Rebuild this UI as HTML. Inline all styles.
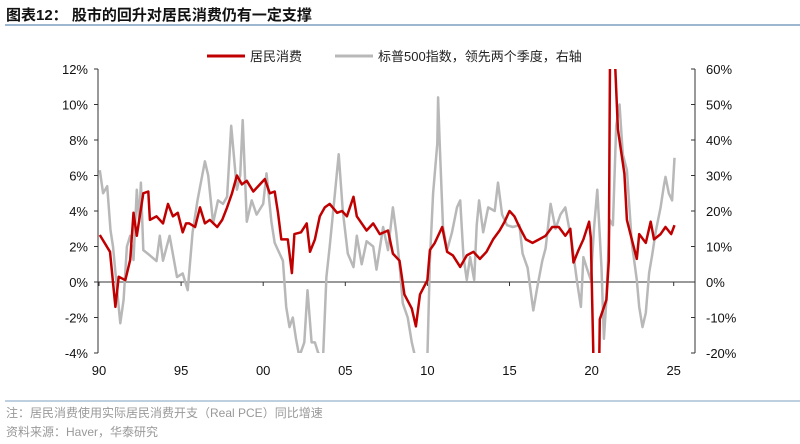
<!DOCTYPE html>
<html style="margin:0;width:800px;height:444px;overflow:hidden"><head><meta charset="utf-8"><style>
html,body{margin:0;padding:0;background:#fff;width:800px;height:444px;overflow:hidden;font-family:"Liberation Sans","Noto Sans CJK SC",sans-serif;}
svg{display:block;position:absolute;left:0;top:0}
</style></head><body>
<svg id="chart" width="800" height="444" xmlns="http://www.w3.org/2000/svg">
<text x="6" y="20" font-size="15" font-weight="bold" fill="#111" font-family="Liberation Sans,Noto Sans CJK SC,sans-serif">图表12：  股市的回升对居民消费仍有一定支撑</text>
<line x1="5" y1="25" x2="800" y2="25" stroke="#7f9fc0" stroke-width="1.5"/>
<line x1="5" y1="401" x2="800" y2="401" stroke="#a9bfd6" stroke-width="1.5"/>
<text x="6" y="417" font-size="12" fill="#999">注：居民消费使用实际居民消费开支（Real PCE）同比增速</text>
<text x="6" y="436" font-size="12" fill="#999">资料来源：Haver，华泰研究</text>
<g>
<line x1="207" y1="56" x2="245" y2="56" stroke="#c00000" stroke-width="3"/>
<text x="250" y="61" font-size="13" fill="#222">居民消费</text>
<line x1="335" y1="56" x2="373" y2="56" stroke="#b8b8b8" stroke-width="3"/>
<text x="378" y="61" font-size="13" fill="#222">标普500指数，领先两个季度，右轴</text>
</g>
<defs><clipPath id="plot"><rect x="98" y="69" width="597" height="284"/></clipPath></defs>
<g id="axes"></g>
<g id="series" clip-path="url(#plot)"></g>
</svg>
<script>
const leftTicks=[12,10,8,6,4,2,0,-2,-4];
const rightTicks=[60,50,40,30,20,10,0,-10,-20];
const yearTicks=[1990,1995,2000,2005,2010,2015,2020,2025];
const yearLabels=["90","95","00","05","10","15","20","25"];
const pceDates=[1990.05,1990.67,1991,1991.2,1991.6,1991.9,1992.1,1992.3,1992.7,1993,1993.1,1993.5,1993.9,1994.2,1994.5,1994.8,1995.1,1995.3,1995.5,1995.85,1996.15,1996.45,1996.75,1997.2,1997.5,1997.8,1998.1,1998.4,1998.7,1999,1999.4,1999.8,2000.1,2000.4,2000.7,2000.9,2001.1,2001.5,2001.75,2001.9,2002.3,2002.65,2002.85,2003.15,2003.45,2003.75,2004.05,2004.5,2004.8,2005.1,2005.5,2005.7,2006,2006.3,2006.7,2007.1,2007.6,2007.9,2008.3,2008.6,2009.05,2009.3,2009.55,2010,2010.15,2010.45,2010.9,2011.2,2011.55,2012,2012.4,2012.8,2013.2,2013.6,2014,2014.4,2014.7,2015,2015.3,2015.6,2016,2016.4,2016.8,2017.2,2017.6,2018,2018.4,2018.7,2018.9,2019.2,2019.5,2019.85,2019.95,2020.1,2020.3,2020.5,2020.9,2021.05,2021.2,2021.35,2021.6,2022,2022.15,2022.45,2022.75,2022.9,2023.3,2023.6,2023.8,2024.2,2024.5,2024.85,2025.05];
const pceValues=[2.65,1.7,-1.4,0.3,0.1,1.25,3.9,2.6,5.0,5.1,3.5,3.7,3.3,4.4,3.7,3.9,2.8,3.3,3.3,3.1,4.2,3.3,3.5,3.1,3.5,4.2,5.0,6.0,5.5,5.7,5.1,5.5,5.8,5.0,5.1,3.9,2.4,2.4,0.5,2.7,2.8,3.3,1.7,2.4,3.7,4.2,4.4,3.9,4.0,3.7,4.8,3.7,3.3,2.9,3.3,2.7,2.9,1.6,1.2,-0.7,-1.5,-2.5,-0.7,0.1,1.8,2.2,3.1,1.7,1.5,0.85,1.5,1.7,1.3,1.7,2.4,2.9,3.4,4.0,3.7,3.1,2.4,2.2,2.4,2.6,3.1,3.1,2.6,3.0,1.1,1.8,2.4,3.4,2.5,-3.7,-16,-2.1,-1.0,1.2,25,14,8.6,6.1,3.5,2.4,1.3,2.7,2.2,3.4,2.4,2.7,3.1,2.7,3.2];
const spxDates=[1990.05,1990.25,1990.5,1990.7,1990.85,1991.1,1991.3,1991.5,1991.7,1991.9,1992.1,1992.3,1992.45,1992.55,1992.7,1993.1,1993.5,1993.7,1993.9,1994.3,1994.75,1995.1,1995.4,1995.7,1996,1996.45,1996.65,1996.95,1997.25,1997.55,1997.8,1998.05,1998.15,1998.4,1998.6,1998.75,1999,1999.3,1999.6,2000,2000.2,2000.5,2000.7,2000.9,2001.2,2001.4,2001.6,2001.8,2002,2002.2,2002.5,2002.7,2002.95,2003.15,2003.35,2003.65,2003.85,2004.05,2004.35,2004.6,2004.85,2005.15,2005.5,2005.7,2006,2006.3,2006.7,2006.9,2007.3,2007.6,2007.9,2008.1,2008.3,2008.5,2008.8,2009.05,2009.25,2010,2010.15,2010.35,2010.6,2010.65,2010.75,2010.95,2011.2,2011.5,2011.8,2012,2012.2,2012.4,2012.6,2012.85,2013,2013.15,2013.4,2013.7,2014.1,2014.3,2014.55,2014.85,2015.2,2015.6,2015.8,2016.1,2016.45,2016.7,2017,2017.2,2017.5,2017.8,2018.1,2018.4,2018.6,2018.8,2019.1,2019.35,2019.5,2019.7,2019.95,2020.15,2020.35,2020.6,2020.75,2020.9,2021.1,2021.3,2021.5,2021.7,2021.9,2022.15,2022.45,2022.75,2022.9,2023.1,2023.3,2023.5,2023.7,2023.9,2024.2,2024.4,2024.5,2024.7,2024.9,2025.05];
const spxValues=[31.5,25,27,14.6,10,-2.3,-11.6,-5,10,13,6.2,26,17,28,9,7.5,5.9,13,6,13,1.4,2.4,-2.3,14,23,34,30,16.6,23,22,24,44,39,26,30,45.6,17,23,19,22,30.6,17,11,9,6,-7,-12.7,-10,-16,-21,-17,-2.3,-17,-17,-20,-21,1.4,10,24,36,20,8,4.2,13,5,11.5,10,3.5,15.5,9,21,14,5,-6,-10,-17,-21,-21,6,25,39,52,39,15.5,9,14,21,23,7,0.6,7,0.6,16,23,14,21,20,28,19,16,15.5,16,8,4,-8,-1.3,6,9.5,22,15,19,21,16,11,0.6,-7,7,4,0.6,15.5,26,4,-16,-5,17.5,16,44,50,36,31.5,11,0.6,-7,-12.7,-8.7,2.5,8,14,21,27,29.6,25,23,35];

const X0=98,X1=695,Y0=69,Y1=353;
const xS=y=>99+(y-1990)*16.42;
const yL=v=>282-v*17.75;
const yR=v=>282-v*3.55;
const NS="http://www.w3.org/2000/svg";
function mk(tag,attrs,parent){const e=document.createElementNS(NS,tag);for(const k in attrs)e.setAttribute(k,attrs[k]);parent.appendChild(e);return e;}
const axes=document.getElementById('axes');
let la=mk('line',{x1:X0,y1:Y0,x2:X0,y2:Y1,stroke:'#333','stroke-width':1},axes);


let ra=mk('line',{x1:X1,y1:Y0,x2:X1,y2:Y1,stroke:'#333','stroke-width':1},axes);


let za=mk('line',{x1:X0,y1:yL(0),x2:X1,y2:yL(0),stroke:'#333','stroke-width':1},axes);


leftTicks.forEach(v=>{const y=yL(v);
 let t=mk('line',{x1:X0-4,y1:y,x2:X0,y2:y,stroke:'#333'},axes);
 
 
 let tx=mk('text',{x:88,y:y+5,'text-anchor':'end','font-size':13,fill:'#111'},axes);tx.textContent=v+'%';
 
 });
rightTicks.forEach(v=>{const y=yR(v);
 let t=mk('line',{x1:X1-4,y1:y,x2:X1,y2:y,stroke:'#333'},axes);
 
 
 let tx=mk('text',{x:706,y:y+5,'font-size':13,fill:'#111'},axes);tx.textContent=v+'%';
 
 });
yearTicks.forEach((yr,i)=>{const x=xS(yr);
 let t=mk('line',{x1:x,y1:yL(0),x2:x,y2:yL(0)+4,stroke:'#333'},axes);
 
 
 let tx=mk('text',{x:x,y:375,'text-anchor':'middle','font-size':13,fill:'#111'},axes);tx.textContent=yearLabels[i];
 
 });
const ser=document.getElementById('series');
let gp=mk('polyline',{points:spxDates.map((d,i)=>xS(d).toFixed(1)+','+yR(spxValues[i]).toFixed(1)).join(' '),fill:'none',stroke:'#b8b8b8','stroke-width':2.5,'stroke-linejoin':'round'},ser);


let rp=mk('polyline',{points:pceDates.map((d,i)=>xS(d).toFixed(1)+','+yL(pceValues[i]).toFixed(1)).join(' '),fill:'none',stroke:'#c00000','stroke-width':2.5,'stroke-linejoin':'round'},ser);


</script>
</body></html>
